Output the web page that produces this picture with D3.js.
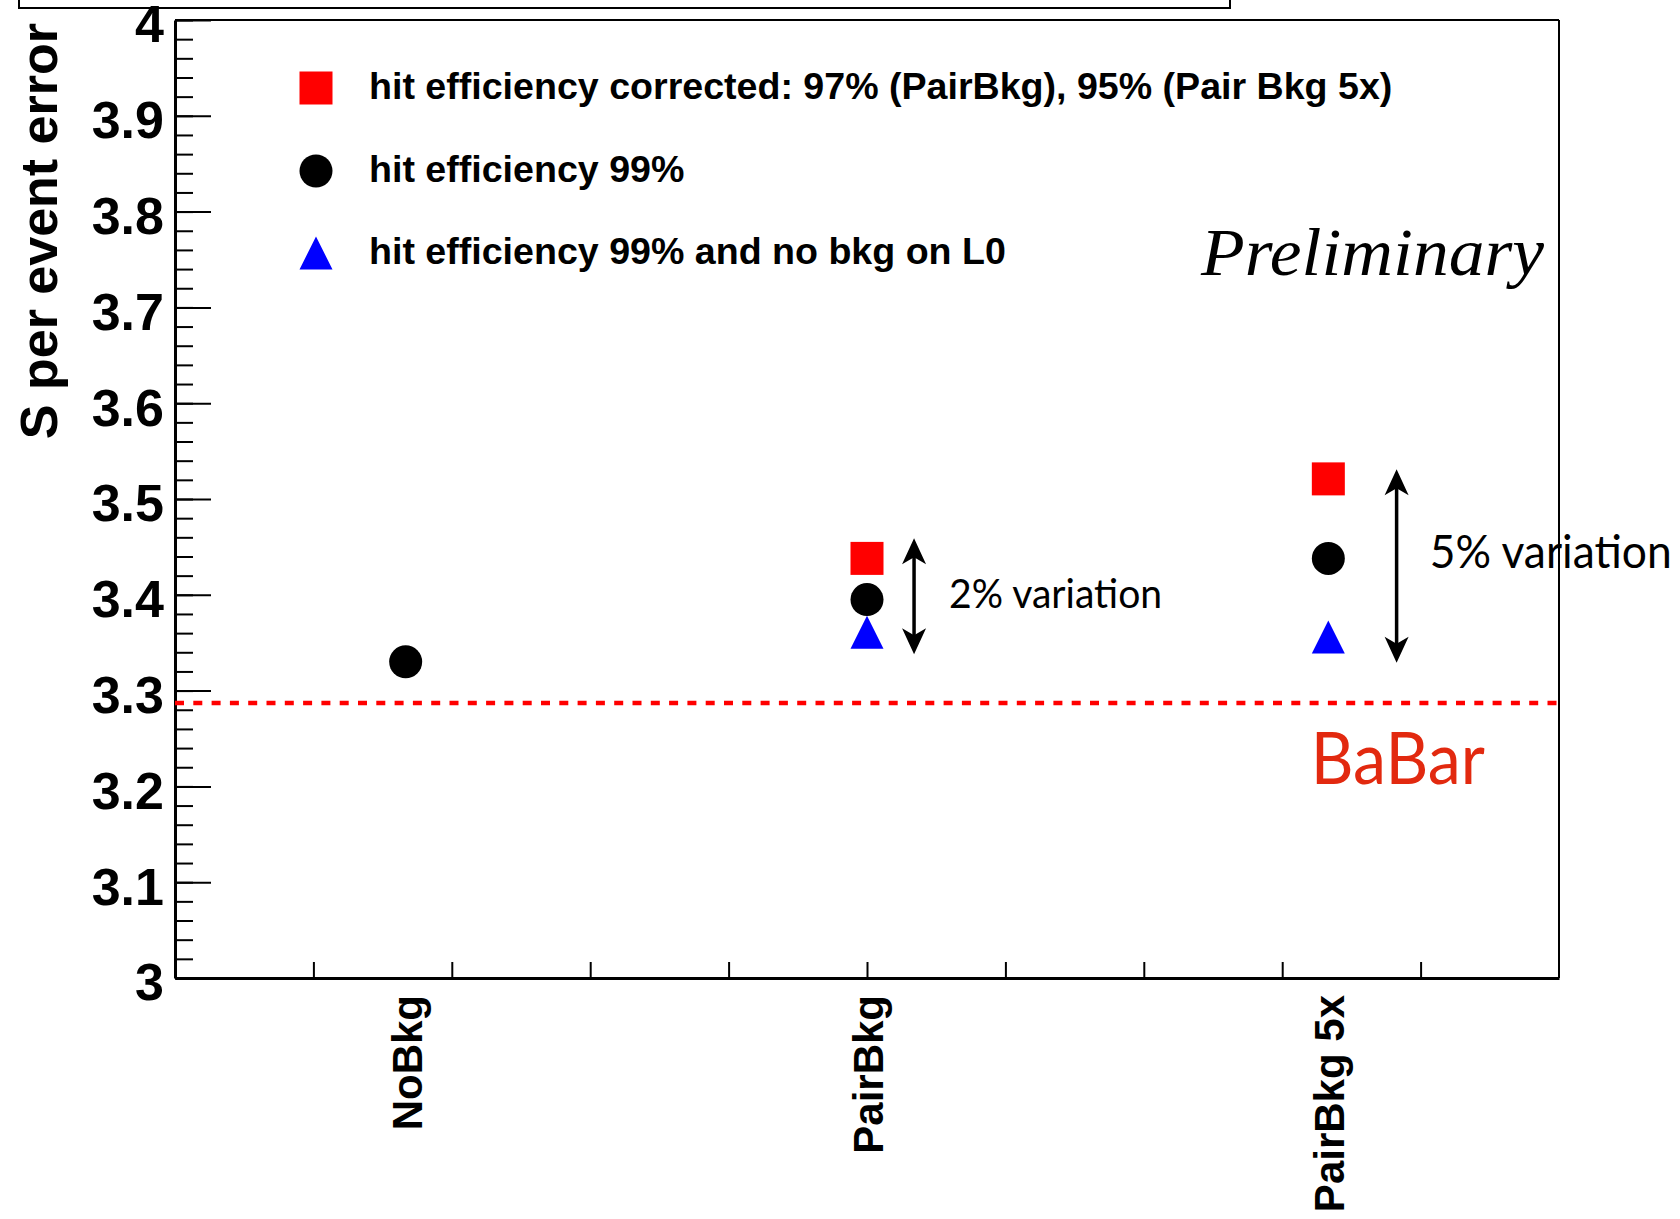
<!DOCTYPE html>
<html>
<head>
<meta charset="utf-8">
<script src="https://cdn.jsdelivr.net/npm/d3@7"></script>
<style>
  body { margin: 0; background: #fff; }
  svg { display: block; }
</style>
</head>
<body>
<div id="chart"></div>
<script>
// categories on the x axis (one bin each, domain 0..3)
const categories = ["NoBkg", "PairBkg", "PairBkg 5x"];
// S per event error
const correctedEff = [null, 3.438, 3.521];
const eff99 = [3.33, 3.395, 3.438];
const eff99NoL0 = [null, 3.361, 3.356];
const babarValue = 3.287;

const yMajorTicks = [3, 3.1, 3.2, 3.3, 3.4, 3.5, 3.6, 3.7, 3.8, 3.9, 4];
const yMinorTicks = d3.range(0, 51).map(i => 3 + i * 0.02);
const xTicks = d3.range(1, 10).map(i => i * 0.3);

const legendLabels = [
  "hit efficiency corrected: 97% (PairBkg), 95% (Pair Bkg 5x)",
  "hit efficiency 99%",
  "hit efficiency 99% and no bkg on L0"
];

// double arrows showing the spread, in data units
const variations = [
  { x: 1.602, from: 3.338, to: 3.459, label: "2% variation", tx: 1.678, ty: 3.386 },
  { x: 2.648, from: 3.329, to: 3.531, label: "5% variation", tx: 2.72, ty: 3.428 }
];

const W = 1680, H = 1219;
const plotLeft = 175, plotRight = 1559, plotTop = 20, plotBottom = 978;

const svg = d3.select("#chart").append("svg")
  .attr("width", W)
  .attr("height", H);

const x = d3.scaleLinear().domain([0, 3]).range([plotLeft, plotRight]);
const y = d3.scaleLinear().domain([3, 4]).range([plotBottom, plotTop]);

const sans = "'Liberation Sans', Arial, Helvetica, sans-serif";

// cut-off title box at the very top
svg.append("rect")
  .attr("x", 19).attr("y", -20)
  .attr("width", 1211).attr("height", 28)
  .attr("fill", "none").attr("stroke", "#000").attr("stroke-width", 2);

// y axis: minor ticks, then major ticks with labels
svg.append("g")
  .attr("transform", `translate(${plotLeft},0)`)
  .call(d3.axisLeft(y).tickValues(yMinorTicks).tickSizeInner(-18).tickSizeOuter(0).tickFormat(""))
  .call(g => g.select(".domain").remove())
  .call(g => g.selectAll("line").attr("stroke-width", 2));

const yAxis = svg.append("g")
  .attr("transform", `translate(${plotLeft},0)`)
  .call(d3.axisLeft(y).tickValues(yMajorTicks).tickSizeInner(-36).tickSizeOuter(0).tickPadding(11)
    .tickFormat(d => d3.format("")(+d.toFixed(1))));
yAxis.select(".domain").attr("stroke-width", 3);
yAxis.selectAll("line").attr("stroke-width", 2);
yAxis.selectAll("text")
  .attr("fill", "#000")
  .attr("dy", "0.42em")
  .style("font-family", sans)
  .style("font-weight", "bold")
  .style("font-size", "52px");

// y axis title
svg.append("text")
  .attr("transform", `translate(57,23) rotate(-90)`)
  .attr("text-anchor", "end")
  .style("font-family", sans)
  .style("font-weight", "bold")
  .style("font-size", "52px")
  .text("S per event error");

// x axis ticks
const xAxis = svg.append("g")
  .attr("transform", `translate(0,${plotBottom})`)
  .call(d3.axisBottom(x).tickValues(xTicks).tickSizeInner(-16).tickSizeOuter(0).tickFormat(""));
xAxis.select(".domain").attr("stroke-width", 3);
xAxis.selectAll("line").attr("stroke-width", 2);

// category labels, rotated
svg.selectAll(".cat")
  .data(categories)
  .enter()
  .append("text")
  .attr("class", "cat")
  .attr("transform", (d, i) => `translate(${x(i + 0.5) + 16},${plotBottom + 17}) rotate(-90)`)
  .attr("text-anchor", "end")
  .style("font-family", sans)
  .style("font-weight", "bold")
  .style("font-size", "42px")
  .text(d => d);

// BaBar reference line
svg.append("line")
  .attr("x1", x(0)).attr("x2", x(3))
  .attr("y1", y(babarValue)).attr("y2", y(babarValue))
  .attr("stroke", "#ff0000")
  .attr("stroke-width", 4.5)
  .attr("stroke-dasharray", "9,9.3");

// marker shapes
const half = 16.5;
function drawMarker(g, shape, color) {
  if (shape === "square") {
    g.append("rect").attr("x", -half).attr("y", -half).attr("width", 2 * half).attr("height", 2 * half).attr("fill", color);
  } else if (shape === "circle") {
    g.append("circle").attr("r", half).attr("fill", color);
  } else {
    g.append("path").attr("d", `M0,${-half}L${half},${half}L${-half},${half}Z`).attr("fill", color);
  }
}

const series = [
  { values: correctedEff, shape: "square", color: "#ff0000" },
  { values: eff99, shape: "circle", color: "#000000" },
  { values: eff99NoL0, shape: "triangle", color: "#0000ff" }
];

series.forEach(s => {
  s.values.forEach((v, i) => {
    if (v === null) return;
    const g = svg.append("g").attr("transform", `translate(${x(i + 0.5)},${y(v)})`);
    drawMarker(g, s.shape, s.color);
  });
});

// legend
const legendY = [88, 171, 253];
series.forEach((s, i) => {
  const g = svg.append("g").attr("transform", `translate(316,${legendY[i]})`);
  drawMarker(g, s.shape, s.color);
  svg.append("text")
    .attr("x", 369)
    .attr("y", legendY[i] + 11)
    .style("font-family", sans)
    .style("font-weight", "bold")
    .style("font-size", "37.6px")
    .text(legendLabels[i]);
});

// variation arrows
function arrowHead(px, py, dir) {
  // dir = -1 pointing up, +1 pointing down
  const L = 26, w = 12, n = 19;
  return `M${px},${py}L${px + w},${py - dir * L}L${px},${py - dir * n}L${px - w},${py - dir * L}Z`;
}
variations.forEach((v, i) => {
  const ax = x(v.x), yTop = y(v.to), yBot = y(v.from);
  svg.append("line")
    .attr("x1", ax).attr("x2", ax)
    .attr("y1", yTop + 15).attr("y2", yBot - 15)
    .attr("stroke", "#000").attr("stroke-width", 3.5);
  svg.append("path").attr("d", arrowHead(ax, yTop, -1)).attr("fill", "#000");
  svg.append("path").attr("d", arrowHead(ax, yBot, 1)).attr("fill", "#000");
  svg.append("text")
    .attr("x", x(v.tx)).attr("y", y(v.ty))
    .attr("textLength", i === 0 ? 213 : 242)
    .attr("lengthAdjust", "spacingAndGlyphs")
    .style("font-family", "Lato, 'Open Sans', sans-serif")
    .style("font-size", i === 0 ? "41px" : "46px")
    .text(v.label);
});

// Preliminary / BaBar labels
svg.append("text")
  .attr("x", x(2.224)).attr("y", y(3.734))
  .attr("textLength", 343)
  .attr("lengthAdjust", "spacingAndGlyphs")
  .style("font-family", "'Liberation Serif', 'Times New Roman', serif")
  .style("font-style", "italic")
  .style("font-size", "68px")
  .text("Preliminary");

svg.append("text")
  .attr("x", x(2.462)).attr("y", y(3.2025))
  .attr("textLength", 174)
  .attr("lengthAdjust", "spacingAndGlyphs")
  .attr("fill", "#e2290f")
  .style("font-family", "Lato, 'Open Sans', sans-serif")
  .style("font-size", "72px")
  .text("BaBar");

// frame: top and right edges drawn last
svg.append("line").attr("x1", plotLeft).attr("x2", plotRight).attr("y1", plotTop).attr("y2", plotTop)
  .attr("stroke", "#000").attr("stroke-width", 2);
svg.append("line").attr("x1", plotRight).attr("x2", plotRight).attr("y1", plotTop).attr("y2", plotBottom)
  .attr("stroke", "#000").attr("stroke-width", 2);
</script>
</body>
</html>
